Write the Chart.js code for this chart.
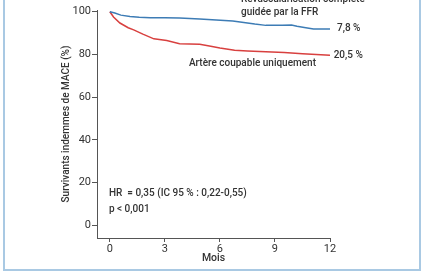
<!DOCTYPE html>
<html>
<head>
<meta charset="utf-8">
<script src="https://cdn.jsdelivr.net/npm/chart.js@4"></script>
<style>
  html, body { margin: 0; padding: 0; background: #fff; }
  #wrap { position: relative; width: 428px; height: 280px; overflow: hidden; }
  #frame { position: absolute; left: 3px; top: -10px; width: 418px; height: 281px; border: 2px solid #a9c9e3; box-sizing: border-box; }
  canvas { position: absolute; left: 0; top: 0; }
</style>
</head>
<body>
<div id="wrap">
  <div id="frame"></div>
  <canvas id="kmChart" width="428" height="280"></canvas>
</div>
<script>
// Kaplan-Meier curves (months, % survivors free of MACE)
const blueMonths = [0, 0.27, 0.6, 1.1, 1.6, 2.2, 3.0, 3.8, 4.9, 5.8, 6.7, 7.4, 7.9, 8.5, 9.4, 9.9, 10.2, 10.6, 11.1, 12];
const blueValues = [100, 99.4, 98.4, 97.8, 97.4, 97.2, 97.2, 97.0, 96.6, 96.1, 95.6, 94.8, 94.2, 93.6, 93.6, 93.8, 93.2, 92.6, 91.9, 91.9];

const redMonths = [0, 0.2, 0.55, 1.0, 1.3, 1.8, 2.4, 3.1, 3.8, 4.9, 5.5, 6.0, 6.8, 7.5, 8.5, 9.5, 10.5, 12];
const redValues = [100, 97.5, 94.7, 92.5, 91.5, 89.5, 87.3, 86.5, 85.0, 84.8, 83.8, 83.0, 82.0, 81.6, 81.2, 80.9, 80.3, 79.6];

const xTicks = [0, 3, 6, 9, 12];
const yTicks = [0, 20, 40, 60, 80, 100];

// text notes placed in data coordinates
const noteTexts = ["Revascularisation complète", "guidée par la FFR", "7,8 %", "20,5 %", "Artère coupable uniquement", "HR  = 0,35 (IC 95 % : 0,22-0,55)", "p < 0,001"];
const noteX = [7.15, 7.15, 12.38, 12.2, 4.31, -0.05, -0.05];
const noteY = [105.8, 99.5, 92.0, 79.3, 75.6, 15.0, 7.5];

const textColor = "#333333";
const fontFamily = "Roboto, 'Liberation Sans', sans-serif";

const toPoints = (xs, ys) => xs.map((x, i) => ({ x: x, y: ys[i] }));

const notesPlugin = {
    id: "notes",
    afterDraw(chart) {
        const ctx = chart.ctx;
        const xs = chart.scales.x;
        const ys = chart.scales.y;
        ctx.save();
        ctx.font = "500 10px " + fontFamily;
        ctx.fillStyle = textColor;
        ctx.textAlign = "left";
        ctx.textBaseline = "middle";
        noteTexts.forEach((t, i) => {
            ctx.fillText(t, xs.getPixelForValue(noteX[i]), ys.getPixelForValue(noteY[i]));
        });
        ctx.restore();
    }
};

const ctx = document.getElementById("kmChart").getContext("2d");

new Chart(ctx, {
    type: "line",
    data: {
        datasets: [
            {
                label: "Revascularisation complète guidée par la FFR",
                data: toPoints(blueMonths, blueValues),
                borderColor: "#3d7cb5",
                borderWidth: 1.5,
                pointRadius: 0,
                tension: 0,
            },
            {
                label: "Artère coupable uniquement",
                data: toPoints(redMonths, redValues),
                borderColor: "#d8403f",
                borderWidth: 1.5,
                pointRadius: 0,
                tension: 0,
            },
        ],
    },
    options: {
        responsive: false,
        animation: false,
        parsing: false,
        layout: { padding: { left: 58, top: 10, right: 98, bottom: 0 } },
        plugins: {
            legend: { display: false },
            tooltip: { enabled: false },
        },
        scales: {
            x: {
                type: "linear",
                min: -0.7,
                max: 12,
                afterBuildTicks: (scale) => { scale.ticks = xTicks.map(v => ({ value: v })); },
                afterFit: (scale) => { scale.height = 42; },
                grid: { drawOnChartArea: false, drawTicks: true, tickLength: 4, color: "#555" },
                border: { color: "#555", width: 1 },
                ticks: { color: textColor, font: { family: fontFamily, size: 11 }, padding: 1, maxRotation: 0 },
                title: { display: true, text: "Mois", color: textColor, font: { family: fontFamily, size: 10.5, weight: "500" }, padding: { top: 0, bottom: 15 } },
            },
            y: {
                type: "linear",
                min: -6,
                max: 100.8,
                afterBuildTicks: (scale) => { scale.ticks = yTicks.map(v => ({ value: v })); },
                afterFit: (scale) => { scale.width = 39; },
                grid: { drawOnChartArea: false, drawTicks: true, tickLength: 5, color: "#555" },
                border: { color: "#555", width: 1 },
                ticks: { color: textColor, font: { family: fontFamily, size: 11 }, padding: 1 },
                title: { display: true, text: "Survivants indemmes de MACE (%)", color: textColor, font: { family: fontFamily, size: 10, weight: "500" }, padding: { top: 2, bottom: 0 } },
            },
        },
    },
    plugins: [notesPlugin],
});
</script>
</body>
</html>
